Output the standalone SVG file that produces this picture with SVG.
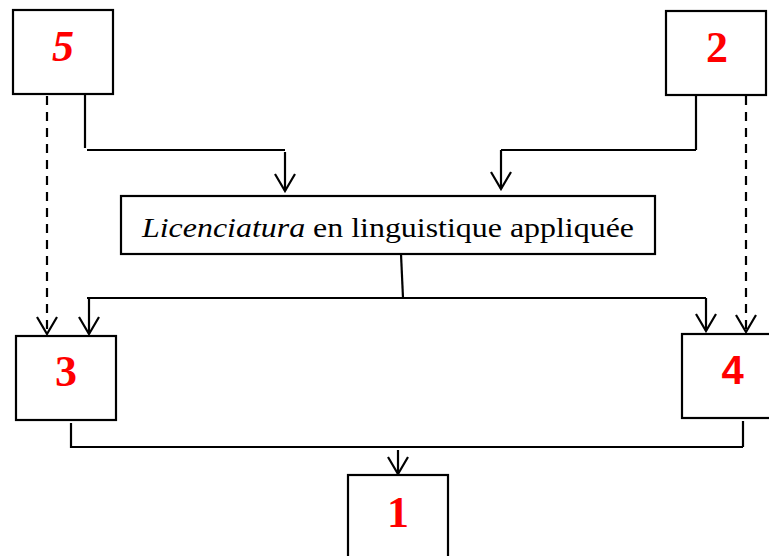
<svg xmlns="http://www.w3.org/2000/svg" width="769" height="556" viewBox="0 0 769 556">
<style>
.box{fill:#fff;stroke:#000;stroke-width:2.2}
.num{font-family:"Liberation Serif","Times New Roman",serif;font-weight:bold;font-size:44px;fill:#ff0000;text-anchor:middle}
.sans{font-family:"Liberation Sans",Arial,sans-serif;font-size:40px}
.lbl{font-family:"Liberation Serif","Times New Roman",serif;font-size:28px;fill:#000}
.ln{fill:none;stroke:#000;stroke-width:2.2}
.dash{stroke-dasharray:9 7}
.arr{marker-end:url(#ah)}
</style>
<defs>
<marker id="ah" viewBox="0 0 22 22" refX="20" refY="11" markerWidth="22" markerHeight="22" markerUnits="userSpaceOnUse" orient="auto">
<path d="M3,1 L20,11 L3,21" fill="none" stroke="#000" stroke-width="2.2" stroke-dasharray="none"/>
</marker>
</defs>
<rect width="769" height="556" fill="#fff"/>
<g id="connectors">
<line class="ln" x1="85" y1="95" x2="85" y2="148"/>
<line class="ln" x1="87" y1="150" x2="285" y2="150"/>
<line class="ln arr" x1="285" y1="152" x2="285" y2="191"/>
<line class="ln" x1="696" y1="95" x2="696" y2="150"/>
<line class="ln" x1="696" y1="150" x2="501" y2="150"/>
<line class="ln arr" x1="501" y1="150" x2="501" y2="189"/>
<line class="ln dash arr" x1="47" y1="96" x2="47" y2="334"/>
<line class="ln dash arr" x1="746" y1="96" x2="746" y2="332"/>
<line class="ln" x1="401" y1="254" x2="403" y2="298"/>
<line class="ln" x1="87" y1="298" x2="706" y2="298"/>
<line class="ln arr" x1="89" y1="298" x2="89" y2="334"/>
<line class="ln arr" x1="706" y1="298" x2="706" y2="331"/>
<line class="ln" x1="71" y1="423" x2="71" y2="448"/>
<line class="ln" x1="743" y1="421" x2="743" y2="447"/>
<line class="ln" x1="70" y1="447" x2="743" y2="447"/>
<line class="ln arr" x1="398" y1="450" x2="398" y2="474"/>
</g>
<g id="node5">
<rect class="box" x="13" y="10" width="100" height="84"/>
<text class="num" x="63" y="61" font-style="italic">5</text>
</g>
<g id="node2">
<rect class="box" x="666" y="11" width="100" height="84"/>
<text class="num" x="717" y="62">2</text>
</g>
<g id="nodeL">
<rect class="box" x="121" y="196" width="534" height="58"/>
<text class="lbl" x="142" y="237" textLength="492" lengthAdjust="spacingAndGlyphs"><tspan font-style="italic">Licenciatura</tspan> en linguistique appliquée</text>
</g>
<g id="node3">
<rect class="box" x="16" y="336" width="100" height="84"/>
<text class="num" x="66" y="386">3</text>
</g>
<g id="node4">
<rect class="box" x="682" y="334" width="100" height="84"/>
<text class="num sans" x="732.5" y="384">4</text>
</g>
<g id="node1">
<rect class="box" x="348" y="475" width="100" height="100"/>
<text class="num" x="398" y="527">1</text>
</g>
</svg>
